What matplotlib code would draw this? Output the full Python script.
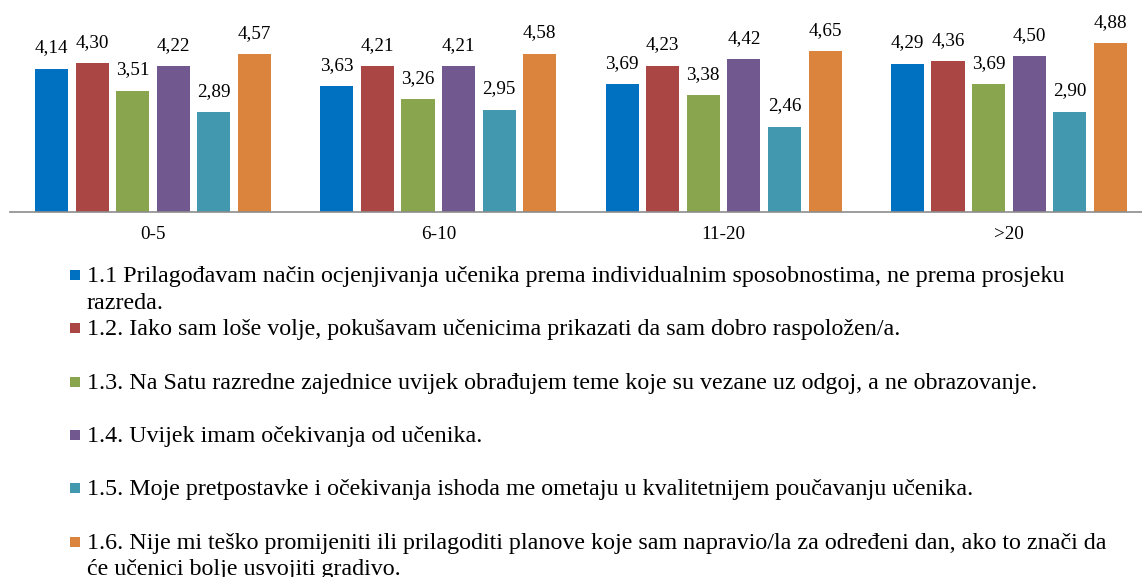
import matplotlib
matplotlib.use("Agg")
import matplotlib.pyplot as plt
from matplotlib.patches import Rectangle
import numpy as np

categories = ["0-5", "6-10", "11-20", ">20"]
series_labels = [
    "1.1 Prilagođavam način ocjenjivanja učenika prema individualnim sposobnostima, ne prema prosjeku\nrazreda.",
    "1.2. Iako sam loše volje, pokušavam učenicima prikazati da sam dobro raspoložen/a.",
    "1.3. Na Satu razredne zajednice uvijek obrađujem teme koje su vezane uz odgoj, a ne obrazovanje.",
    "1.4. Uvijek imam očekivanja od učenika.",
    "1.5. Moje pretpostavke i očekivanja ishoda me ometaju u kvalitetnijem poučavanju učenika.",
    "1.6. Nije mi teško promijeniti ili prilagoditi planove koje sam napravio/la za određeni dan, ako to znači da\nće učenici bolje usvojiti gradivo.",
]
s11 = [4.14, 3.63, 3.69, 4.29]
s12 = [4.30, 4.21, 4.23, 4.36]
s13 = [3.51, 3.26, 3.38, 3.69]
s14 = [4.22, 4.21, 4.42, 4.50]
s15 = [2.89, 2.95, 2.46, 2.90]
s16 = [4.57, 4.58, 4.65, 4.88]
series_values = [s11, s12, s13, s14, s15, s16]
colors = ["#0070C0", "#AA4643", "#89A54E", "#71588F", "#4198AF", "#DB843D"]

W, H = 1142, 577
FONT = "Liberation Serif"
fig = plt.figure(figsize=(W / 100, H / 100), dpi=100)

base_px = 211.7
ax = fig.add_axes([10.35 / W, (H - base_px) / H, 1141.2 / W, 207 / H])
ax.set_xlim(-0.5, 3.5)
ax.set_ylim(0, 6)

x = np.arange(len(categories))
step = 0.1423
width = 0.1157
n = len(series_values)
for i, (vals, col) in enumerate(zip(series_values, colors)):
    xs = x + (i - (n - 1) / 2) * step
    ax.bar(xs, vals, width=width, color=col, zorder=2)
    for xi, v in zip(xs, vals):
        ax.annotate(f"{v:.2f}".replace(".", ","), (xi, v), xytext=(0, 11.8),
                    textcoords="offset points", ha="center", va="baseline",
                    fontsize=13.8, family=FONT, color="#000000")

for s in ["top", "right", "left"]:
    ax.spines[s].set_visible(False)
ax.spines["bottom"].set_color("#8c8c8c")
ax.spines["bottom"].set_linewidth(1.2)
ax.set_yticks([])
ax.set_xticks(x)
ax.set_xticklabels(categories, fontsize=13.8, family=FONT)
ax.tick_params(axis="x", length=0, pad=10.5)

# legend (manual layout)
text_x = 87
first_base = 282
slot = 53.3
line_step = 27
sq = 10
for i, (lab, col) in enumerate(zip(series_labels, colors)):
    yb = first_base + i * slot
    for k, line in enumerate(lab.split("\n")):
        fig.text(text_x / W, 1 - (yb + k * line_step) / H, line, ha="left", va="baseline",
                 fontsize=17.3, family=FONT, color="#000000")
    cx, cy = 75, yb - 7
    fig.patches.append(Rectangle(((cx - sq / 2) / W, 1 - (cy + sq / 2) / H), sq / W, sq / H,
                                 transform=fig.transFigure, facecolor=col, edgecolor="none"))

fig.savefig("out.png", dpi=100)
